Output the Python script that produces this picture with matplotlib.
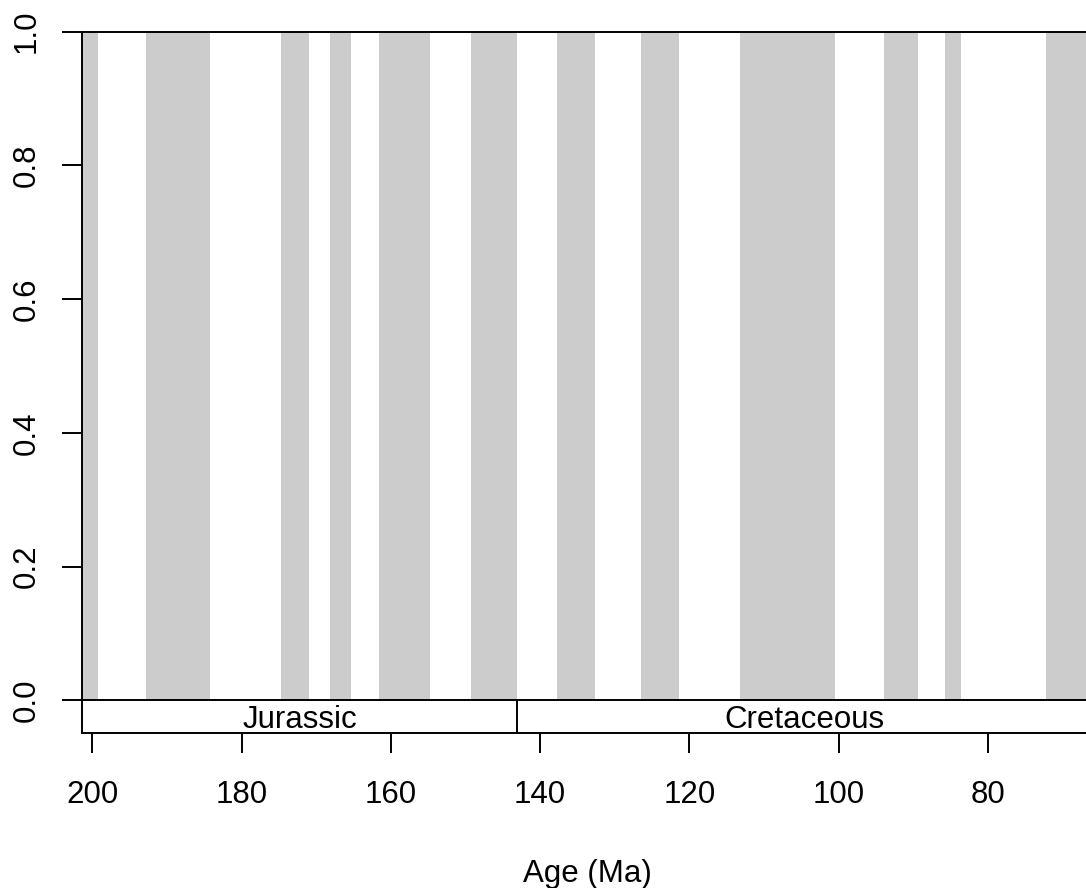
import matplotlib
matplotlib.use("Agg")
from matplotlib import pyplot as plt

# shaded intervals (Ma), oldest edge / youngest edge
band_old = [201.3, 192.8, 174.7, 168.2, 161.6, 149.3,
            137.7, 126.5, 113.2, 93.9, 85.7, 72.2]
band_young = [199.3, 184.2, 171.0, 165.4, 154.8, 143.1,
              132.6, 121.4, 100.5, 89.4, 83.6, 66.0]

# periods drawn in the strip under the plot
period_names = ["Jurassic", "Cretaceous"]
period_old = [201.3, 143.1]
period_young = [143.1, 66.0]

x_ticks = [200, 180, 160, 140, 120, 100, 80]
y_ticks = [0.0, 0.2, 0.4, 0.6, 0.8, 1.0]
y_labels = ["0.0", "0.2", "0.4", "0.6", "0.8", "1.0"]

plt.rcParams['font.family'] = ['Liberation Sans', 'DejaVu Sans']
plt.rcParams['font.size'] = 22.5

fig = plt.figure(figsize=(10.86, 8.88), dpi=100)
ax = fig.add_axes([0.0758, 0.1742, 0.9302, 0.7901])

strip = 0.0494  # height of the period strip in y units
ax.set_xlim(201.34, 66.0)
ax.set_ylim(-strip, 1.0)

# grey bands
for old, young in zip(band_old, band_young):
    ax.axvspan(young, old, ymin=strip / (1 + strip), ymax=1.0,
               facecolor='#cccccc', edgecolor='none', zorder=1)

# period strip
lw = 1.4
ax.axhline(0, color='black', lw=lw, zorder=3)
for name, old, young in zip(period_names, period_old, period_young):
    ax.plot([young, young], [-strip, 0], color='black', lw=lw, zorder=3)
    ax.text((old + young) / 2, -0.042, name, ha='center', va='baseline')

for side in ['left', 'top', 'bottom', 'right']:
    ax.spines[side].set_linewidth(lw)

ax.set_xticks(x_ticks)
ax.set_yticks(y_ticks)
ax.set_yticklabels(y_labels)
plt.setp(ax.get_yticklabels(), rotation=90, va='center')
ax.tick_params(axis='x', direction='out', length=14.4, width=lw, pad=19.5)
ax.tick_params(axis='y', direction='out', length=14.4, width=lw, pad=15)

ax.set_xlabel('Age (Ma)', labelpad=35)

fig.savefig('out.png', dpi=100)
